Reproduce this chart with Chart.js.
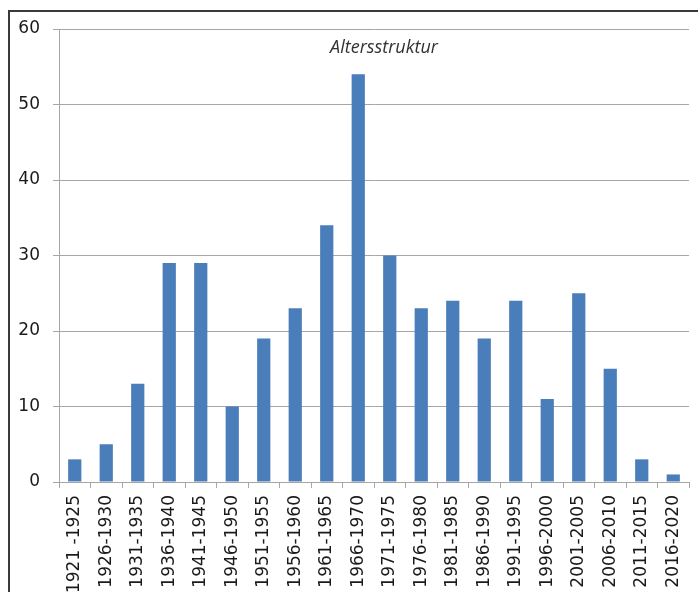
<!DOCTYPE html>
<html>
<head>
<meta charset="utf-8">
<script src="https://cdn.jsdelivr.net/npm/chart.js@4/dist/chart.umd.min.js"></script>
<style>
  html, body { margin: 0; padding: 0; background: #fff; }
  #wrap { position: relative; width: 698px; height: 592px; overflow: hidden; }
  #frame { position: absolute; left: 8px; top: 10px; width: 700px; height: 600px;
           border-left: 2px solid #3a3a3a; border-top: 2px solid #3a3a3a; box-sizing: border-box; }
  canvas { position: absolute; left: 0; top: 0; }
</style>
</head>
<body>
<div id="wrap">
  <div id="frame"></div>
  <canvas id="c" width="698" height="592"></canvas>
</div>
<script>
const chartTitle = "Altersstruktur";
const categories = ["1921 -1925","1926-1930","1931-1935","1936-1940","1941-1945","1946-1950",
  "1951-1955","1956-1960","1961-1965","1966-1970","1971-1975","1976-1980","1981-1985",
  "1986-1990","1991-1995","1996-2000","2001-2005","2006-2010","2011-2015","2016-2020"];
const values = [3,5,13,29,29,10,19,23,34,54,30,23,24,19,24,11,25,15,3,1];
const yTicks = [0,10,20,30,40,50,60];

const titlePlugin = {
  id: 'innerTitle',
  afterDraw(chart) {
    const ctx = chart.ctx;
    const a = chart.chartArea;
    ctx.save();
    ctx.font = 'italic 18px "Open Sans"';
    ctx.fillStyle = '#333';
    ctx.textAlign = 'center';
    ctx.textBaseline = 'alphabetic';
    ctx.fillText(chartTitle, (a.left + a.right) / 2 + 10, 53);
    ctx.restore();
  }
};

new Chart(document.getElementById('c'), {
  type: 'bar',
  data: {
    labels: categories,
    datasets: [{
      data: values,
      backgroundColor: '#4a7ebb',
      borderWidth: 0,
      barPercentage: 0.42,
      categoryPercentage: 1.0
    }]
  },
  options: {
    responsive: false,
    animation: false,
    layout: { padding: { top: 29, right: 9, left: 0, bottom: 0 } },
    plugins: { legend: { display: false }, tooltip: { enabled: false }, title: { display: false } },
    scales: {
      x: {
        grid: { display: true, drawOnChartArea: false, drawTicks: true, tickLength: 6, color: '#a6a6a6', offset: true },
        border: { display: true, color: '#a6a6a6', width: 1 },
        ticks: {
          minRotation: 90, maxRotation: 90, autoSkip: false,
          color: '#1a1a1a', font: { family: '"DejaVu Sans"', size: 17 }, padding: 7
        },
        afterFit(s) { s.height = 110; s.paddingRight = 0; s.paddingLeft = 0; }
      },
      y: {
        min: 0, max: 60,
        afterBuildTicks(s) { s.ticks = yTicks.map(v => ({ value: v })); },
        grid: { color: '#a6a6a6', lineWidth: 1, tickLength: 6 },
        border: { display: true, color: '#a6a6a6', width: 1 },
        ticks: { color: '#1a1a1a', font: { family: '"DejaVu Sans"', size: 17 }, padding: 13 },
        afterFit(s) { s.width = 59; }
      }
    }
  },
  plugins: [titlePlugin]
});
</script>
</body>
</html>
